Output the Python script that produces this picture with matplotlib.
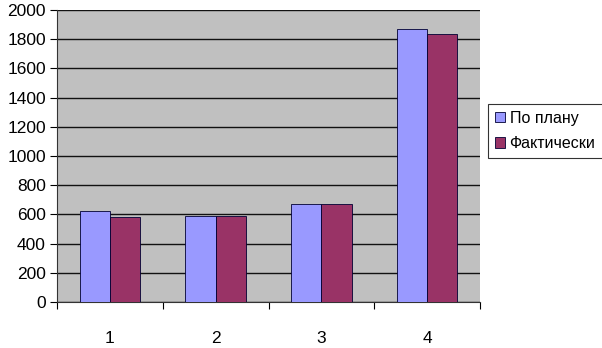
import matplotlib
matplotlib.use("Agg")
from matplotlib import pyplot as plt
from matplotlib.ticker import FixedLocator, NullFormatter
import numpy as np

plt.rcParams['font.family'] = ['Liberation Sans', 'DejaVu Sans']

categories = ['1', '2', '3', '4']
plan = [623, 589, 669, 1870]
fact = [582, 589, 673, 1833]
series_names = ['По плану', 'Фактически']

fig = plt.figure(figsize=(6.02, 3.48), dpi=100)
ax = fig.add_axes([57 / 602, 1 - 302 / 348, (480 - 57) / 602, (302 - 10) / 348])
ax.set_facecolor('#C0C0C0')

x = np.arange(len(categories))
w = 0.285
ax.bar(x - w / 2, plan, w, color='#9999FF', edgecolor='#000033', linewidth=0.6,
       label=series_names[0], zorder=3)
ax.bar(x + w / 2, fact, w, color='#993366', edgecolor='#000033', linewidth=0.6,
       label=series_names[1], zorder=3)

ax.set_xlim(-0.5, len(categories) - 0.5)
ax.set_ylim(0, 2000)
ax.set_yticks(np.arange(0, 2001, 200))
ax.yaxis.grid(True, color='#111111', linewidth=1.0, zorder=1)
ax.set_axisbelow(True)

ax.set_xticks(x)
ax.set_xticklabels(categories)
ax.tick_params(axis='x', which='major', length=0, pad=21, labelsize=12.5)
ax.xaxis.set_minor_locator(FixedLocator(np.arange(-0.5, len(categories), 1.0)))
ax.xaxis.set_minor_formatter(NullFormatter())
ax.tick_params(axis='x', which='minor', length=5, width=0.8, direction='out')
ax.tick_params(axis='y', length=5, width=0.8, direction='out', labelsize=12.5, pad=3)

for side in ['top', 'right']:
    ax.spines[side].set_visible(False)
for side in ['left', 'bottom']:
    ax.spines[side].set_color('#333333')
    ax.spines[side].set_linewidth(0.8)

leg = fig.legend(loc='center left', bbox_to_anchor=(488 / 602, 1 - 131 / 348),
                 frameon=True, fancybox=False, edgecolor='black', fontsize=11.5,
                 handlelength=0.6, handleheight=0.6, handletextpad=0.3,
                 borderpad=0.45, labelspacing=0.65, borderaxespad=0)
leg.get_frame().set_linewidth(0.8)

fig.savefig('out.png', dpi=100)
